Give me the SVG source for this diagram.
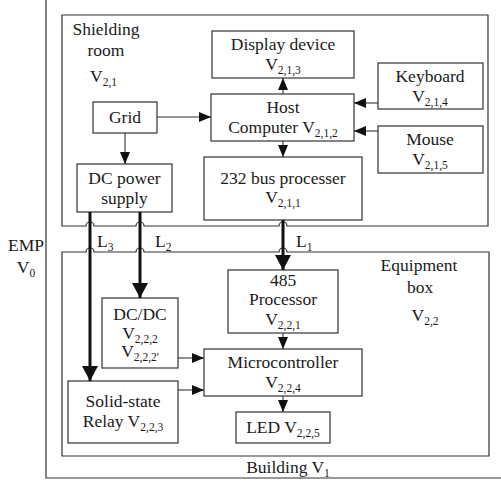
<svg xmlns="http://www.w3.org/2000/svg" width="501" height="482" viewBox="0 0 501 482">
<style>
text{font-family:"Liberation Serif","Tinos","Times New Roman","DejaVu Serif",serif;font-size:17.5px;fill:#1a1a1a}
.c{text-anchor:middle}
.s{font-size:11.5px}
.box{fill:#fff;stroke:#333;stroke-width:1.2}
.frame{fill:none;stroke:#333;stroke-width:1.2}
.thin{fill:none;stroke:#333;stroke-width:1.1}
.thick{fill:none;stroke:#111;stroke-width:3}
</style>
<defs>
<marker id="ah" markerUnits="userSpaceOnUse" markerWidth="12" markerHeight="10" refX="12" refY="5" orient="auto"><path d="M0,0 L12,5 L0,10 z" fill="#111"/></marker>
<marker id="ahb" markerUnits="userSpaceOnUse" markerWidth="15" markerHeight="16" refX="15" refY="8" orient="auto"><path d="M0,0 L15,8 L0,16 z" fill="#111"/></marker>
</defs>
<rect width="501" height="482" fill="#fff"/>
<g id="building">
<path class="frame" d="M46,0 V478 H501"/>
<text class="c" x="288" y="473">Building V<tspan class="s" dy="4">1</tspan></text>
</g>
<g id="emp">
<text class="c" x="26" y="251">EMP</text>
<text class="c" x="26" y="273">V<tspan class="s" dy="4">0</tspan></text>
</g>
<g id="shielding-room">
<path class="frame" d="M62,15 H488 V226 H287 a4,4 0 0 0 -8,0 H144 a4,4 0 0 0 -8,0 H94 a4,4 0 0 0 -8,0 H62 Z"/>
<text class="c" x="106" y="35">Shielding</text>
<text class="c" x="106" y="56">room</text>
<text x="90" y="82">V<tspan class="s" dy="4">2,1</tspan></text>
</g>
<g id="equipment-box">
<path class="frame" d="M62,252 H86 a4,4 0 0 1 8,0 H136 a4,4 0 0 1 8,0 H279 a4,4 0 0 1 8,0 H489 V456 H62 Z"/>
<text class="c" x="419" y="271">Equipment</text>
<text class="c" x="420" y="293">box</text>
<text class="c" x="425" y="321">V<tspan class="s" dy="4">2,2</tspan></text>
</g>
<g id="display">
<rect class="box" x="212" y="31" width="142" height="47"/>
<text class="c" x="283" y="50">Display device</text>
<text class="c" x="283" y="70">V<tspan class="s" dy="4">2,1,3</tspan></text>
</g>
<g id="host">
<rect class="box" x="211" y="94" width="143" height="47"/>
<text class="c" x="283" y="113">Host</text>
<text class="c" x="283" y="133">Computer V<tspan class="s" dy="4">2,1,2</tspan></text>
</g>
<g id="keyboard">
<rect class="box" x="378" y="63" width="105" height="46"/>
<text class="c" x="430" y="82">Keyboard</text>
<text class="c" x="430" y="102">V<tspan class="s" dy="4">2,1,4</tspan></text>
</g>
<g id="mouse">
<rect class="box" x="378" y="126" width="105" height="47"/>
<text class="c" x="430" y="145">Mouse</text>
<text class="c" x="430" y="165">V<tspan class="s" dy="4">2,1,5</tspan></text>
</g>
<g id="bus232">
<rect class="box" x="204" y="157" width="158" height="63"/>
<text class="c" x="283" y="184">232 bus processer</text>
<text class="c" x="283" y="203">V<tspan class="s" dy="4">2,1,1</tspan></text>
</g>
<g id="grid">
<rect class="box" x="93" y="102" width="64" height="31"/>
<text class="c" x="125" y="123">Grid</text>
</g>
<g id="dc-power">
<rect class="box" x="77" y="164" width="95" height="48"/>
<text class="c" x="124.5" y="184">DC power</text>
<text class="c" x="124.5" y="204">supply</text>
</g>
<g id="proc485">
<rect class="box" x="228" y="270" width="110" height="63"/>
<text class="c" x="283" y="286">485</text>
<text class="c" x="283" y="305">Processor</text>
<text class="c" x="283" y="325">V<tspan class="s" dy="4">2,2,1</tspan></text>
</g>
<g id="microcontroller">
<rect class="box" x="204" y="349" width="158" height="47"/>
<text class="c" x="283" y="368">Microcontroller</text>
<text class="c" x="283" y="388">V<tspan class="s" dy="4">2,2,4</tspan></text>
</g>
<g id="led">
<rect class="box" x="236" y="412" width="94" height="31"/>
<text class="c" x="283" y="433">LED V<tspan class="s" dy="4">2,2,5</tspan></text>
</g>
<g id="dcdc">
<rect class="box" x="102" y="298" width="76" height="70"/>
<text class="c" x="140" y="320">DC/DC</text>
<text class="c" x="140" y="339">V<tspan class="s" dy="4">2,2,2</tspan></text>
<text class="c" x="140" y="357">V<tspan class="s" dy="4">2,2,2'</tspan></text>
</g>
<g id="relay">
<rect class="box" x="68" y="381" width="110" height="62"/>
<text class="c" x="123" y="407">Solid-state</text>
<text class="c" x="123" y="427">Relay V<tspan class="s" dy="4">2,2,3</tspan></text>
</g>
<g id="connectors">
<path class="thin" d="M157,117 H211" marker-end="url(#ah)"/>
<path class="thin" d="M125,133 V164" marker-end="url(#ah)"/>
<path class="thin" d="M283,94 V78" marker-end="url(#ah)"/>
<path class="thin" d="M283,141 V157" marker-end="url(#ah)"/>
<path class="thin" d="M378,103 H354" marker-end="url(#ah)"/>
<path class="thin" d="M378,131 H354" marker-end="url(#ah)"/>
<path class="thin" d="M283,333 V349" marker-end="url(#ah)"/>
<path class="thin" d="M283,396 V412" marker-end="url(#ah)"/>
<path class="thin" d="M178,358 H204" marker-end="url(#ah)"/>
<path class="thin" d="M178,390 H204" marker-end="url(#ah)"/>
<path class="thick" d="M283,220 V270" marker-end="url(#ahb)"/>
<path class="thick" d="M140,212 V298" marker-end="url(#ahb)"/>
<path class="thick" d="M90,212 V381" marker-end="url(#ahb)"/>
<text x="296" y="247">L<tspan class="s" dy="4">1</tspan></text>
<text x="155" y="247">L<tspan class="s" dy="4">2</tspan></text>
<text x="97" y="247">L<tspan class="s" dy="4">3</tspan></text>
</g>
</svg>
